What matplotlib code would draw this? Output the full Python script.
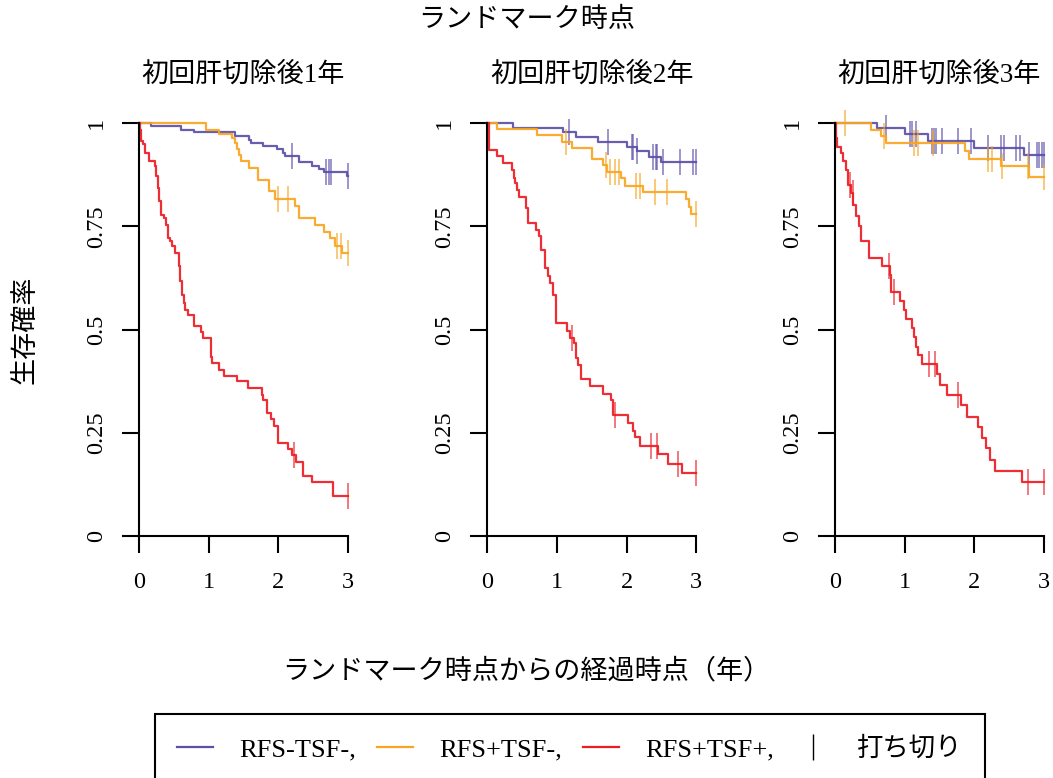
import numpy as np
import matplotlib
matplotlib.use('Agg')
import matplotlib.pyplot as plt
from matplotlib.lines import Line2D

plt.rcParams['font.family'] = ['Liberation Serif', 'Noto Sans CJK JP']

BLUE = '#5B50A8'
ORANGE = '#F8A51F'
RED = '#EC1C24'

# 初回肝切除後1年
blue_t1 = [0.17, 0.60, 0.79, 1.38, 1.58, 1.61, 1.78, 1.98, 2.07, 2.10, 2.29, 2.49, 2.59, 2.65, 2.98]
blue_s1 = [0.993, 0.983, 0.977, 0.968, 0.960, 0.952, 0.944, 0.936, 0.928, 0.920, 0.905, 0.897, 0.889, 0.881, 0.872]
blue_c1 = [2.19, 2.69, 2.73, 2.75, 3.0]
orange_t1 = [0.96, 1.15, 1.34, 1.38, 1.41, 1.44, 1.46, 1.58, 1.71, 1.86, 1.95, 2.24, 2.30, 2.53, 2.65, 2.74, 2.81, 2.92]
orange_s1 = [0.983, 0.973, 0.964, 0.952, 0.936, 0.922, 0.908, 0.892, 0.862, 0.836, 0.815, 0.799, 0.769, 0.753, 0.737, 0.721, 0.703, 0.686]
orange_c1 = [1.99, 2.14, 2.84, 2.90, 3.0]
red_t1 = [0.019, 0.033, 0.057, 0.081, 0.148, 0.234, 0.249, 0.268, 0.292, 0.316, 0.354, 0.387, 0.411, 0.44,
          0.478, 0.521, 0.569, 0.593, 0.617, 0.641, 0.665, 0.703, 0.784, 0.89, 0.918, 1.033, 1.045, 1.152,
          1.224, 1.40, 1.57, 1.76, 1.78, 1.84, 1.89, 1.94, 2.0, 2.14, 2.19, 2.26, 2.35, 2.49, 2.79]
red_s1 = [0.984, 0.956, 0.950, 0.927, 0.909, 0.895, 0.871, 0.843, 0.810, 0.778, 0.770, 0.754, 0.722, 0.715,
          0.701, 0.685, 0.653, 0.617, 0.584, 0.564, 0.548, 0.536, 0.508, 0.494, 0.479, 0.434, 0.418, 0.402,
          0.387, 0.375, 0.358, 0.341, 0.329, 0.297, 0.283, 0.267, 0.224, 0.210, 0.196, 0.178, 0.146, 0.130, 0.098]
red_c1 = [2.23, 3.0]

# 初回肝切除後2年
blue_t2 = [0.373, 1.089, 1.28, 1.59, 2.0, 2.15, 2.32, 2.50]
blue_s2 = [0.989, 0.977, 0.967, 0.955, 0.943, 0.931, 0.918, 0.906]
blue_c2 = [1.175, 1.73, 2.07, 2.09, 2.15, 2.38, 2.42, 2.44, 2.52, 2.76, 2.95, 3.0]
orange_t2 = [0.143, 0.71, 1.066, 1.22, 1.51, 1.66, 1.72, 1.925, 1.97, 2.235, 2.857, 2.89, 2.92]
orange_s2 = [0.985, 0.971, 0.955, 0.940, 0.912, 0.898, 0.882, 0.866, 0.848, 0.834, 0.815, 0.797, 0.780]
orange_c2 = [1.13, 1.70, 1.76, 1.83, 1.89, 2.14, 2.19, 2.40, 2.58, 3.0]
red_t2 = [0.02, 0.03, 0.139, 0.22, 0.354, 0.387, 0.40, 0.425, 0.45, 0.56, 0.583, 0.70, 0.745, 0.774, 0.83,
          0.865, 0.894, 0.94, 0.99, 1.146, 1.185, 1.24, 1.27, 1.30, 1.34, 1.48, 1.66, 1.78, 1.805, 2.02,
          2.09, 2.12, 2.19, 2.45, 2.60, 2.79]
red_s2 = [0.972, 0.935, 0.919, 0.903, 0.887, 0.867, 0.855, 0.838, 0.822, 0.794, 0.758, 0.742, 0.726, 0.693, 0.649,
          0.629, 0.613, 0.584, 0.515, 0.497, 0.479, 0.467, 0.430, 0.414, 0.379, 0.362, 0.344, 0.329, 0.293, 0.274,
          0.255, 0.239, 0.219, 0.199, 0.174, 0.152]
red_c2 = [1.22, 1.84, 2.345, 2.44, 2.74, 3.0]

# 初回肝切除後3年
blue_t3 = [0.60, 1.006, 1.33, 2.0, 2.72]
blue_s3 = [0.987, 0.973, 0.956, 0.940, 0.922]
blue_c3 = [0.73, 1.07, 1.10, 1.16, 1.39, 1.42, 1.45, 1.53, 1.77, 1.95, 2.19, 2.385, 2.43, 2.60, 2.65,
           2.79, 2.90, 2.93, 2.97, 3.0]
orange_t3 = [0.517, 0.66, 0.733, 1.86, 1.925, 2.38, 2.79]
orange_s3 = [0.983, 0.968, 0.951, 0.933, 0.914, 0.897, 0.870]
orange_c3 = [0.144, 0.70, 1.14, 1.19, 1.40, 2.19, 2.25, 2.39, 2.77, 3.0]
red_t3 = [0.01, 0.024, 0.086, 0.11, 0.153, 0.19, 0.23, 0.263, 0.297, 0.35, 0.37, 0.49, 0.67, 0.79, 0.81,
          0.934, 0.99, 1.015, 1.10, 1.135, 1.164, 1.197, 1.255, 1.46, 1.51, 1.61, 1.81, 1.90, 2.05, 2.11,
          2.17, 2.22, 2.30, 2.68]
red_s3 = [0.964, 0.943, 0.927, 0.907, 0.887, 0.851, 0.830, 0.802, 0.774, 0.750, 0.714, 0.673, 0.653, 0.633, 0.592,
          0.568, 0.548, 0.525, 0.503, 0.481, 0.458, 0.438, 0.416, 0.392, 0.366, 0.341, 0.316, 0.289, 0.263, 0.237,
          0.212, 0.185, 0.157, 0.131]
red_c3 = [0.216, 0.254, 0.77, 0.84, 1.355, 1.437, 1.76, 2.77, 3.0]

panel_titles = ['初回肝切除後1年', '初回肝切除後2年', '初回肝切除後3年']
group_labels = ['RFS-TSF-,', 'RFS+TSF-,', 'RFS+TSF+,']
censor_label = '打ち切り'
x_ticks = [0, 1, 2, 3]
y_ticks = [0, 0.25, 0.5, 0.75, 1]
y_ticklabels = ['0', '0.25', '0.5', '0.75', '1']

panels = [
    [(blue_t1, blue_s1, blue_c1), (orange_t1, orange_s1, orange_c1), (red_t1, red_s1, red_c1)],
    [(blue_t2, blue_s2, blue_c2), (orange_t2, orange_s2, orange_c2), (red_t2, red_s2, red_c2)],
    [(blue_t3, blue_s3, blue_c3), (orange_t3, orange_s3, orange_c3), (red_t3, red_s3, red_c3)],
]
colors = [BLUE, ORANGE, RED]


def km_curve(ax, t, s, c, color):
    tt = np.concatenate([[0.0], t, [3.0]])
    ss = np.concatenate([[1.0], s, [s[-1]]])
    ax.step(tt, ss, where='post', color=color, lw=1.6, alpha=0.92, clip_on=False)
    c = np.asarray(c)
    idx = np.searchsorted(tt, c, side='right') - 1
    ax.plot(c, ss[idx], ls='none', marker='|', ms=19, mew=1.4, color=color, alpha=0.6, clip_on=False)


fig = plt.figure(figsize=(10.53, 7.78), dpi=100)
W, H = 1053, 778
lefts = [139, 487.3, 835]
for k, left in enumerate(lefts):
    ax = fig.add_axes([left / W, 1 - 536 / H, 209 / W, 413 / H])
    for (t, s, c), col in zip(panels[k], colors):
        km_curve(ax, t, s, c, col)
    ax.set_xlim(0, 3)
    ax.set_ylim(0, 1)
    for side in ['top', 'right']:
        ax.spines[side].set_visible(False)
    for side in ['left', 'bottom']:
        ax.spines[side].set_linewidth(1.5)
    ax.set_xticks(x_ticks)
    ax.set_xticklabels([str(v) for v in x_ticks])
    ax.set_yticks(y_ticks)
    ax.set_yticklabels(y_ticklabels)
    ax.tick_params(axis='both', direction='out', length=12, width=1.5, labelsize=17.5)
    ax.tick_params(axis='x', pad=14)
    ax.tick_params(axis='y', pad=11, labelrotation=90)
    for lab in ax.get_yticklabels():
        lab.set_va('center')
    ax.text(0.5, 1 + 48 / 413, panel_titles[k], transform=ax.transAxes,
            ha='center', va='center', fontsize=19.5)

fig.text(0.5, 1 - 20 / H, 'ランドマーク時点', ha='center', va='center', fontsize=19.5)
fig.text(0.5, 1 - 672 / H, 'ランドマーク時点からの経過時点（年）', ha='center', va='center', fontsize=19.5)
fig.text(26 / W, 1 - 330 / H, '生存確率', ha='center', va='center', rotation=90, fontsize=19.5)

handles = [Line2D([0], [0], color=col, lw=1.6) for col in colors]
handles.append(Line2D([0], [0], color='black', lw=0, marker='|', ms=19, mew=1.0))
leg = fig.legend(handles, group_labels + [censor_label], loc='upper left',
                 bbox_to_anchor=(155 / W, 1 - 714 / H), ncol=4, frameon=True, fancybox=False,
                 edgecolor='black', framealpha=1, fontsize=19, handlelength=1.35,
                 handletextpad=1.0, columnspacing=0.8, borderpad=0.85, borderaxespad=0)
leg.get_frame().set_linewidth(1.5)

fig.savefig('out.png', dpi=100)
